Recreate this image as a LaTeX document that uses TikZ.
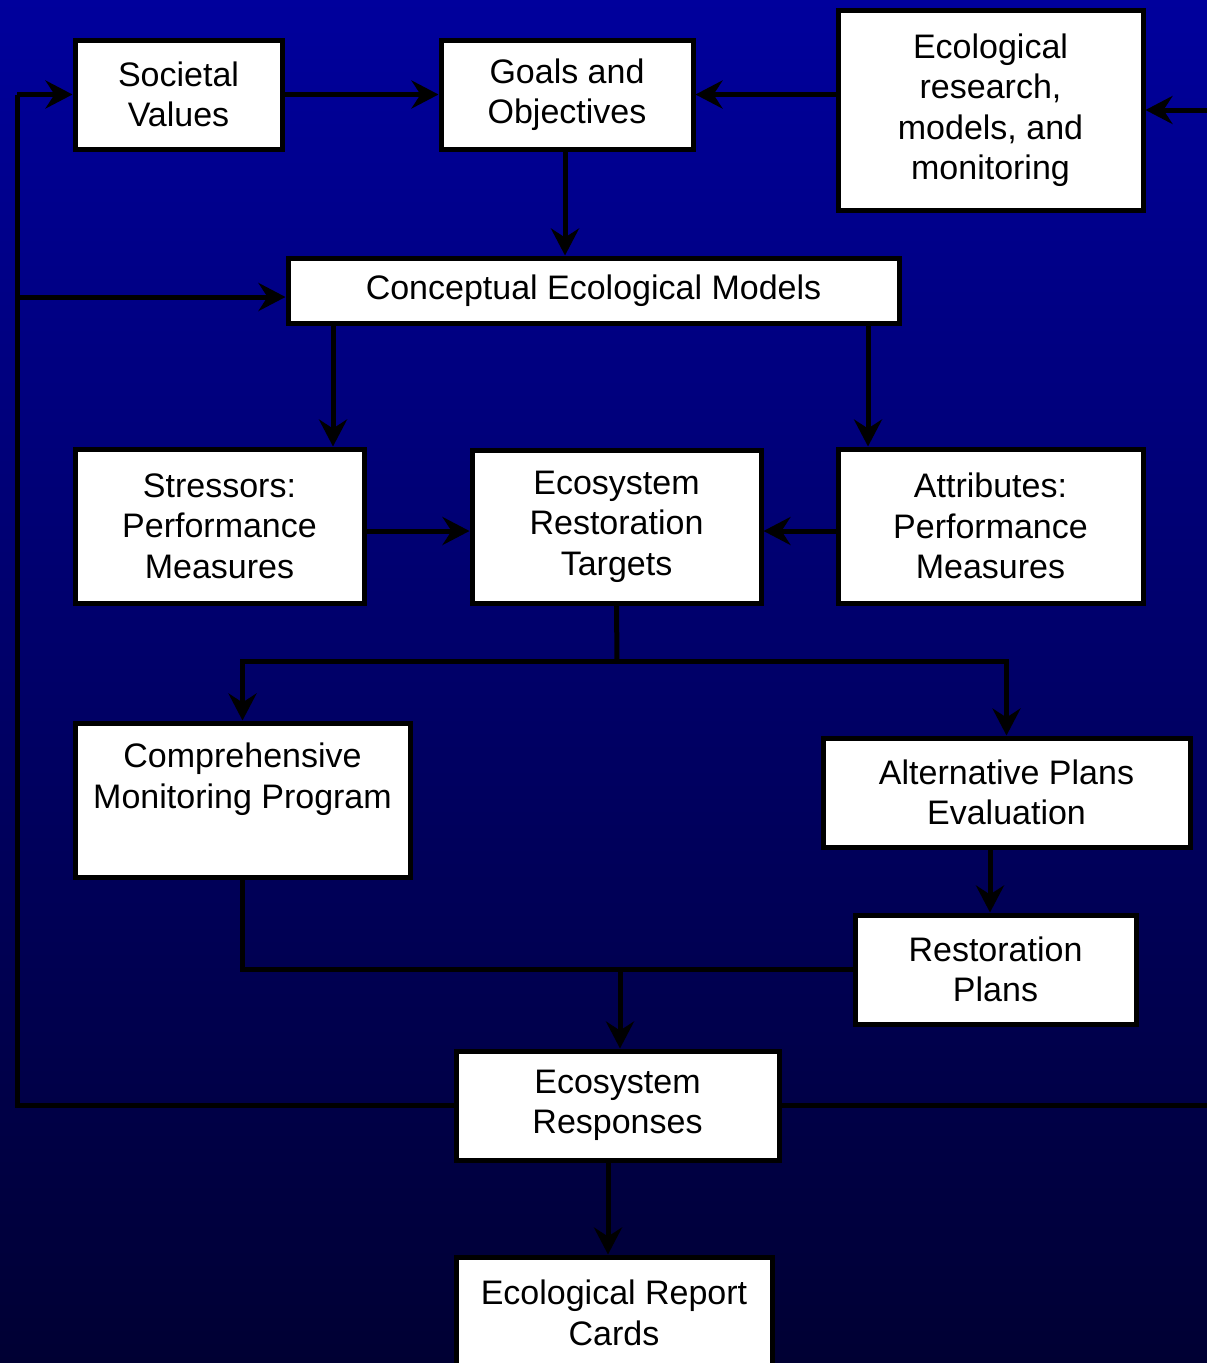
\documentclass[tikz,border=0pt]{standalone}
\usepackage{fontspec}
\setmainfont{Liberation Sans}
\usetikzlibrary{arrows.meta}
\definecolor{bgtop}{HTML}{00009C}
\definecolor{bgmid}{HTML}{000080}
\definecolor{bgbot}{HTML}{000033}
\begin{document}
\begin{tikzpicture}[x=1pt,y=-1pt,
  box/.style={draw=black,fill=white,line width=5pt,align=center,inner sep=0pt,
    font=\fontsize{34}{40.5}\selectfont},
  link/.style={draw=black,line width=5pt},
  arr/.style={link,-{Stealth[length=27pt,width=28pt,inset=9pt]}}]
% page and gradient background
\useasboundingbox (0,0) rectangle (1207,1363);
\shade[top color=bgtop,middle color=bgmid,bottom color=bgbot] (0,0) rectangle (1207,1363);
\clip (0,0) rectangle (1207,1363);

% boxes
\node[box,minimum width=207pt,minimum height=109pt] (sv)  at (178.5,94.5) {Societal\\Values};
\node[box,minimum width=252pt,minimum height=109pt] (go)  at (567,94.5)   {Goals and\\Objectives};
\node[box,minimum width=305pt,minimum height=200pt] (er)  at (990.5,110)  {Ecological\\research,\\models, and\\monitoring};
\node[box,minimum width=611pt,minimum height=65pt]  (cem) at (593.5,290.5) {Conceptual Ecological Models};
\node[box,minimum width=289pt,minimum height=154pt] (st)  at (219.5,526)  {Stressors:\\Performance\\Measures};
\node[box,minimum width=289pt,minimum height=153pt] (ert) at (616.5,526.5) {Ecosystem\\Restoration\\Targets};
\node[box,minimum width=305pt,minimum height=154pt] (at)  at (990.5,526)  {Attributes:\\Performance\\Measures};
\node[box,minimum width=335pt,minimum height=154pt] (cmp) at (242.5,800)  {Comprehensive\\Monitoring Program\\[8pt]\mbox{}};
\node[box,minimum width=367pt,minimum height=109pt] (ape) at (1006.5,792.5) {Alternative Plans\\Evaluation};
\node[box,minimum width=281pt,minimum height=109pt] (rp)  at (995.5,969.5) {Restoration\\Plans};
\node[box,minimum width=323pt,minimum height=109pt] (ers) at (617.5,1105.5) {Ecosystem\\Responses};
\node[box,minimum width=316pt,minimum height=112pt] (erc) at (614,1313)   {Ecological Report\\Cards};

% routing points
\coordinate (lt) at (17,94.5);
\coordinate (lm) at (17,297);
\coordinate (lb) at (17,1105.5);
\coordinate (rt) at (1232,110);
\coordinate (rb) at (1232,1105.5);
\coordinate (gc) at (565,0);
\coordinate (cl) at (333,0);
\coordinate (cr) at (868,0);
\coordinate (mid) at (0,531);
\coordinate (sp) at (617,661);
\coordinate (ap) at (990,0);
\coordinate (jn) at (620,969.5);
\coordinate (ec) at (608,0);

% top row
\draw[arr] (sv.east) -- (go.west);
\draw[arr] (er.west |- go.east) -- (go.east);
\draw[arr] (go.south -| gc) -- (cem.north -| gc);

% feedback loops
\draw[link] (ers.west) -- (lb) -- (lt);
\draw[arr] (lt) -- (sv.west);
\draw[arr] (lm) -- (cem.west |- lm);
\draw[link] (ers.east) -- (rb) -- (rt);
\draw[arr] (rt) -- (er.east);

% models to measures
\draw[arr] (cem.south -| cl) -- (st.north -| cl);
\draw[arr] (cem.south -| cr) -- (at.north -| cr);
\draw[arr] (st.east |- mid) -- (ert.west |- mid);
\draw[arr] (at.west |- mid) -- (ert.east |- mid);

% targets to programs and plans
\draw[link] (ert.south) -- (sp);
\draw[arr] (sp) -| (cmp.north);
\draw[arr] (sp) -| (ape.north);
\draw[arr] (ape.south -| ap) -- (rp.north -| ap);

% monitoring and plans to responses
\draw[link] (cmp.south) |- (rp.west);
\draw[arr] (jn) -- (jn |- ers.north);
\draw[arr] (ers.south -| ec) -- (erc.north -| ec);
\end{tikzpicture}
\end{document}
